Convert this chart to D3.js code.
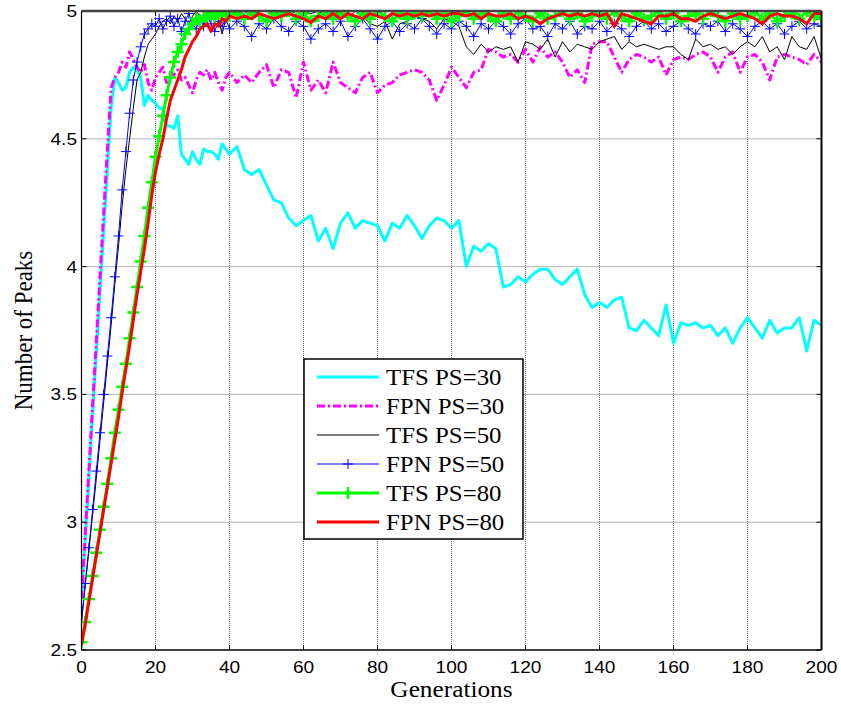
<!DOCTYPE html>
<html>
<head>
<meta charset="utf-8">
<script src="https://cdn.jsdelivr.net/npm/d3@7/dist/d3.min.js"></script>
<style>
  body { margin: 0; background: #fff; }
</style>
</head>
<body>
<svg id="chart" width="841" height="706"></svg>
<script>

// generations: every step up to 40, then every second one
const gens = d3.range(0, 41).concat(d3.range(42, 201, 2));

const tfs30 = [
  2.70, 2.93, 3.18, 3.42, 3.66, 3.90, 4.14, 4.38, 4.62, 4.74,
  4.72, 4.69, 4.70, 4.76, 4.78, 4.77, 4.74, 4.63, 4.67, 4.65,
  4.64, 4.62, 4.62, 4.55, 4.55, 4.54, 4.59, 4.44, 4.42, 4.40,
  4.45, 4.42, 4.40, 4.46, 4.45, 4.45, 4.44, 4.42, 4.48, 4.46, 4.44,
  4.47, 4.38, 4.36, 4.38, 4.32, 4.26, 4.25, 4.19, 4.16, 4.18,
  4.20, 4.10, 4.15, 4.07, 4.17, 4.21, 4.15, 4.18, 4.17, 4.16,
  4.10, 4.17, 4.15, 4.20, 4.16, 4.11, 4.16, 4.19, 4.18, 4.15,
  4.18, 4.00, 4.08, 4.06, 4.09, 4.07, 3.92, 3.93, 3.96, 3.94,
  3.97, 3.99, 3.99, 3.95, 3.93, 3.96, 3.99, 3.89, 3.84, 3.86,
  3.84, 3.87, 3.88, 3.76, 3.75, 3.79, 3.76, 3.73, 3.85, 3.70,
  3.78, 3.77, 3.78, 3.76, 3.77, 3.73, 3.76, 3.70, 3.76, 3.80,
  3.76, 3.72, 3.79, 3.74, 3.76, 3.76, 3.80, 3.67, 3.79, 3.77
];

const fpn30 = [
  2.70, 2.95, 3.20, 3.46, 3.71, 3.96, 4.21, 4.46, 4.70, 4.74,
  4.76, 4.80, 4.78, 4.84, 4.81, 4.78, 4.76, 4.79, 4.72, 4.69,
  4.74, 4.76, 4.78, 4.72, 4.76, 4.75, 4.77, 4.73, 4.74, 4.71,
  4.68, 4.73, 4.76, 4.75, 4.77, 4.73, 4.76, 4.72, 4.69, 4.74, 4.76,
  4.72, 4.75, 4.72, 4.76, 4.79, 4.70, 4.77, 4.76, 4.66, 4.80,
  4.69, 4.73, 4.68, 4.80, 4.72, 4.70, 4.68, 4.74, 4.76, 4.68,
  4.71, 4.72, 4.75, 4.76, 4.77, 4.76, 4.73, 4.65, 4.71, 4.78,
  4.74, 4.70, 4.76, 4.77, 4.85, 4.84, 4.82, 4.83, 4.80, 4.85,
  4.80, 4.86, 4.82, 4.84, 4.80, 4.74, 4.77, 4.72, 4.87, 4.88,
  4.88, 4.82, 4.76, 4.81, 4.83, 4.82, 4.80, 4.82, 4.75, 4.81,
  4.82, 4.81, 4.83, 4.84, 4.82, 4.76, 4.82, 4.84, 4.76, 4.82,
  4.83, 4.80, 4.73, 4.82, 4.83, 4.82, 4.81, 4.79, 4.83, 4.80
];

const tfs50 = [
  2.61, 2.75, 2.89, 3.03, 3.17, 3.32, 3.47, 3.62, 3.77, 3.93,
  4.08, 4.24, 4.38, 4.50, 4.62, 4.73, 4.76, 4.82, 4.87, 4.89,
  4.91, 4.94, 4.96, 4.97, 4.95, 4.98, 4.96, 4.99, 4.97, 4.95,
  4.98, 5.00, 4.98, 4.96, 4.99, 5.00, 4.98, 4.97, 4.91, 4.97, 5.00,
  4.99, 5.00, 4.98, 5.00, 5.00, 4.99, 5.00, 4.98, 5.00, 5.00,
  4.99, 5.00, 4.98, 5.00, 4.99, 4.97, 5.00, 4.98, 4.95, 4.94,
  4.96, 4.89, 4.95, 4.96, 4.98, 4.97, 4.96, 4.93, 4.97, 4.96,
  4.94, 4.86, 4.83, 4.87, 4.84, 4.86, 4.85, 4.86, 4.80, 4.88,
  4.87, 4.85, 4.89, 4.82, 4.88, 4.84, 4.87, 4.86, 4.85, 4.88,
  4.89, 4.90, 4.85, 4.88, 4.86, 4.87, 4.86, 4.85, 4.86, 4.86,
  4.83, 4.81, 4.89, 4.86, 4.87, 4.85, 4.86, 4.83, 4.86, 4.88,
  4.86, 4.90, 4.84, 4.86, 4.81, 4.90, 4.86, 4.85, 4.90, 4.81
];

const fpn50 = [
  2.61, 2.76, 2.90, 3.05, 3.20, 3.35, 3.50, 3.65, 3.80, 3.96,
  4.12, 4.30, 4.45, 4.60, 4.73, 4.80, 4.86, 4.91, 4.93, 4.95,
  4.94, 4.97, 4.93, 4.96, 4.98, 4.94, 4.97, 4.92, 4.96, 4.99,
  4.95, 4.93, 4.97, 4.94, 4.98, 4.95, 4.92, 4.96, 4.94, 4.97, 4.93,
  4.96, 4.94, 4.90, 4.95, 4.93, 4.97, 4.94, 4.92, 4.96, 4.94,
  4.89, 4.93, 4.95, 4.92, 4.96, 4.90, 4.94, 4.97, 4.93, 4.89,
  4.94, 4.96, 4.92, 4.95, 4.93, 4.97, 4.94, 4.91, 4.95, 4.93,
  4.96, 4.94, 4.90, 4.95, 4.93, 4.96, 4.94, 4.91, 4.95, 4.97,
  4.93, 4.94, 4.90, 4.95, 4.93, 4.96, 4.91, 4.94, 4.93, 4.96,
  4.92, 4.95, 4.93, 4.90, 4.94, 4.96, 4.93, 4.95, 4.92, 4.94,
  4.96, 4.93, 4.91, 4.95, 4.94, 4.96, 4.92, 4.95, 4.93, 4.90,
  4.94, 4.96, 4.93, 4.95, 4.91, 4.94, 4.96, 4.93, 4.95, 4.94
];

const tfs80 = [
  2.53, 2.61, 2.70, 2.79, 2.88, 2.97, 3.06, 3.15, 3.25, 3.35,
  3.44, 3.53, 3.62, 3.72, 3.82, 3.92, 4.02, 4.12, 4.23, 4.33,
  4.43, 4.51, 4.59, 4.67, 4.74, 4.80, 4.84, 4.87, 4.91, 4.93,
  4.95, 4.97, 4.96, 4.98, 4.97, 4.99, 4.97, 4.99, 4.98, 4.99, 4.98,
  4.99, 4.97, 5.00, 4.98, 4.96, 4.99, 4.98, 5.00, 4.97, 4.99,
  4.96, 4.98, 5.00, 4.97, 4.99, 4.98, 4.96, 4.99, 4.97, 5.00,
  4.98, 4.96, 4.99, 4.97, 4.99, 4.98, 5.00, 4.97, 4.99, 4.96,
  4.98, 5.00, 4.97, 4.99, 4.98, 4.96, 4.99, 4.97, 5.00, 4.98,
  4.96, 4.99, 4.97, 4.98, 5.00, 4.97, 4.99, 4.96, 4.98, 4.99,
  4.97, 5.00, 4.98, 4.96, 4.99, 4.97, 4.98, 5.00, 4.97, 4.99,
  4.96, 4.98, 4.99, 4.97, 5.00, 4.98, 4.96, 4.99, 4.97, 4.98,
  5.00, 4.97, 4.99, 4.96, 4.98, 4.99, 4.97, 5.00, 4.98, 4.97
];

const fpn80 = [
  2.52, 2.60, 2.69, 2.78, 2.87, 2.96, 3.05, 3.14, 3.23, 3.32,
  3.41, 3.51, 3.60, 3.69, 3.79, 3.89, 3.98, 4.07, 4.17, 4.28,
  4.37, 4.44, 4.50, 4.58, 4.65, 4.69, 4.73, 4.77, 4.82, 4.85,
  4.88, 4.90, 4.93, 4.94, 4.95, 4.92, 4.95, 4.94, 4.97, 4.96, 4.98,
  4.97, 4.98, 4.97, 4.99, 4.98, 4.97, 4.98, 4.99, 4.98, 4.97,
  4.955, 4.98, 4.97, 4.99, 4.97, 4.99, 4.98, 4.97, 4.99, 4.98,
  4.97, 4.99, 4.98, 4.99, 4.98, 4.99, 4.98, 4.99, 4.98, 4.99,
  4.99, 4.98, 4.99, 4.97, 4.99, 4.98, 4.98, 4.99, 4.97, 4.98,
  4.97, 4.95, 4.97, 4.98, 4.99, 4.98, 4.99, 4.98, 4.99, 4.98,
  4.99, 4.94, 4.99, 4.98, 4.97, 4.96, 4.95, 4.98, 4.98, 4.99,
  4.97, 4.97, 4.96, 4.98, 4.99, 4.98, 4.97, 4.98, 4.99, 4.98,
  4.97, 4.95, 4.98, 4.99, 4.98, 4.98, 4.97, 4.95, 4.99, 4.99
];

const seriesLabels = ["TFS PS=30", "FPN PS=30", "TFS PS=50", "FPN PS=50", "TFS PS=80", "FPN PS=80"];
const xTicks = [0, 20, 40, 60, 80, 100, 120, 140, 160, 180, 200];
const yTicks = [2.5, 3, 3.5, 4, 4.5, 5];

// look of each line, same order as the labels
const styles = [
  { color: "#00ffff", width: 3, dash: null, marker: null },
  { color: "#ff00ff", width: 3, dash: "8,3,2,3", marker: null },
  { color: "#000000", width: 1, dash: null, marker: null },
  { color: "#0000ff", width: 1, dash: null, marker: { size: 5, width: 1 } },
  { color: "#00ff00", width: 3, dash: null, marker: { size: 6, width: 2.5 } },
  { color: "#ff0000", width: 3, dash: null, marker: null }
];
const seriesValues = [tfs30, fpn30, tfs50, fpn50, tfs80, fpn80];

const svg = d3.select("#chart");

const x = d3.scaleLinear().domain([0, 200]).range([81.5, 821.5]);
const y = d3.scaleLinear().domain([2.5, 5]).range([650, 11]);

const serif = "'Liberation Serif', 'Times New Roman', serif";
const sans = "'Liberation Sans', Arial, sans-serif";

// the picture is a little wider than tall, so text is stretched sideways
const stretch = function(k) {
  return function() {
    const w = this.getComputedTextLength();
    d3.select(this)
        .attr("textLength", w * k)
        .attr("lengthAdjust", "spacingAndGlyphs");
  };
};

svg.append("defs")
    .append("clipPath")
      .attr("id", "plotClip")
    .append("rect")
      .attr("x", x(0))
      .attr("y", y(5) - 1)
      .attr("width", x(200) - x(0))
      .attr("height", y(2.5) - y(5) + 1);

// dotted grid
const grid = svg.append("g").attr("class", "grid");

grid.selectAll("line.vgrid")
    .data(xTicks.slice(1, -1))
    .enter()
    .append("line")
      .attr("class", "vgrid")
      .attr("x1", (d) => x(d))
      .attr("x2", (d) => x(d))
      .attr("y1", y(2.5))
      .attr("y2", y(5))
      .style("stroke", "#6a6a6a")
      .style("stroke-width", 1)
      .style("stroke-dasharray", "1,1");

grid.selectAll("line.hgrid")
    .data(yTicks.slice(1, -1))
    .enter()
    .append("line")
      .attr("class", "hgrid")
      .attr("x1", x(0))
      .attr("x2", x(200))
      .attr("y1", (d) => y(d))
      .attr("y2", (d) => y(d))
      .style("stroke", "#6a6a6a")
      .style("stroke-width", 1)
      .style("stroke-dasharray", "1,1");

// series
const plot = svg.append("g").attr("clip-path", "url(#plotClip)");

const line = d3.line()
    .x((d, i) => x(gens[i]))
    .y((d) => y(d));

const plusPath = (s) => `M${-s},0H${s}M0,${-s}V${s}`;

seriesValues.forEach((values, k) => {
  const st = styles[k];
  plot.append("path")
      .datum(values)
      .attr("d", line)
      .style("fill", "none")
      .style("stroke", st.color)
      .style("stroke-width", st.width)
      .style("stroke-linejoin", "round")
      .style("stroke-dasharray", st.dash);

  if (st.marker) {
    plot.append("g")
        .selectAll("path")
        .data(values)
        .enter()
        .append("path")
          .attr("transform", (d, i) => `translate(${x(gens[i])},${y(d)})`)
          .attr("d", plusPath(st.marker.size))
          .style("fill", "none")
          .style("stroke", st.color)
          .style("stroke-width", st.marker.width);
  }
});

// axes frame with inward ticks
const axes = svg.append("g").attr("class", "axes");

axes.selectAll("line.xtickb")
    .data(xTicks)
    .enter()
    .append("line")
      .attr("x1", (d) => x(d)).attr("x2", (d) => x(d))
      .attr("y1", y(2.5)).attr("y2", y(2.5) - 5)
      .style("stroke", "#000");

axes.selectAll("line.xtickt")
    .data(xTicks)
    .enter()
    .append("line")
      .attr("x1", (d) => x(d)).attr("x2", (d) => x(d))
      .attr("y1", y(5)).attr("y2", y(5) + 5)
      .style("stroke", "#000");

axes.selectAll("line.ytickl")
    .data(yTicks)
    .enter()
    .append("line")
      .attr("x1", x(0)).attr("x2", x(0) + 5)
      .attr("y1", (d) => y(d)).attr("y2", (d) => y(d))
      .style("stroke", "#000");

axes.selectAll("line.ytickr")
    .data(yTicks)
    .enter()
    .append("line")
      .attr("x1", x(200)).attr("x2", x(200) - 5)
      .attr("y1", (d) => y(d)).attr("y2", (d) => y(d))
      .style("stroke", "#000");

axes.append("line")
    .attr("x1", x(0)).attr("x2", x(200))
    .attr("y1", y(2.5)).attr("y2", y(2.5))
    .style("stroke", "#000").style("stroke-width", 1.5);
axes.append("line")
    .attr("x1", x(0)).attr("x2", x(0))
    .attr("y1", y(2.5)).attr("y2", y(5))
    .style("stroke", "#000").style("stroke-width", 1.2);
axes.append("line")
    .attr("x1", x(200)).attr("x2", x(200))
    .attr("y1", y(2.5)).attr("y2", y(5))
    .style("stroke", "#000").style("stroke-width", 2);
axes.append("line")
    .attr("x1", x(0)).attr("x2", x(200))
    .attr("y1", y(5)).attr("y2", y(5))
    .style("stroke", "#444").style("stroke-width", 2.5);

// tick labels
axes.selectAll("text.xlabel")
    .data(xTicks)
    .enter()
    .append("text")
      .attr("class", "xlabel")
      .attr("x", (d) => x(d))
      .attr("y", 673)
      .attr("text-anchor", "middle")
      .style("font-family", sans)
      .style("font-size", "17px")
      .text((d) => d)
      .each(stretch(1.12));

axes.selectAll("text.ylabel")
    .data(yTicks)
    .enter()
    .append("text")
      .attr("class", "ylabel")
      .attr("x", 77)
      .attr("y", (d) => y(d) + 6)
      .attr("text-anchor", "end")
      .style("font-family", sans)
      .style("font-size", "17px")
      .text((d) => d)
      .each(stretch(1.12));

// axis titles
svg.append("text")
    .attr("x", (x(0) + x(200)) / 2)
    .attr("y", 697)
    .attr("text-anchor", "middle")
    .style("font-family", serif)
    .style("font-size", "23px")
    .text("Generations")
    .each(stretch(1.1));

svg.append("text")
    .attr("transform", `translate(32,${(y(2.5) + y(5)) / 2}) scale(1.12,1) rotate(-90)`)
    .attr("text-anchor", "middle")
    .style("font-family", serif)
    .style("font-size", "23px")
    .text("Number of Peaks");

// legend
const legend = svg.append("g").attr("transform", "translate(304,359)");

legend.append("rect")
    .attr("width", 219)
    .attr("height", 180)
    .style("fill", "#fff")
    .style("stroke", "#000")
    .style("stroke-width", 1.5);

const rows = legend.selectAll("g.row")
    .data(seriesLabels)
    .enter()
    .append("g")
      .attr("class", "row")
      .attr("transform", (d, i) => `translate(0,${18 + i * 29})`);

rows.append("line")
    .attr("x1", 13)
    .attr("x2", 75)
    .style("stroke", (d, i) => styles[i].color)
    .style("stroke-width", (d, i) => styles[i].width)
    .style("stroke-dasharray", (d, i) => styles[i].dash);

rows.filter((d, i) => styles[i].marker)
    .append("path")
      .attr("transform", "translate(44,0)")
      .attr("d", (d) => plusPath(styles[seriesLabels.indexOf(d)].marker.size))
      .style("fill", "none")
      .style("stroke", (d) => styles[seriesLabels.indexOf(d)].color)
      .style("stroke-width", (d) => styles[seriesLabels.indexOf(d)].marker.width);

rows.append("text")
    .attr("x", 82)
    .attr("y", 8)
    .style("font-family", serif)
    .style("font-size", "23px")
    .text((d) => d)
    .each(stretch(1.08));

</script>
</body>
</html>
